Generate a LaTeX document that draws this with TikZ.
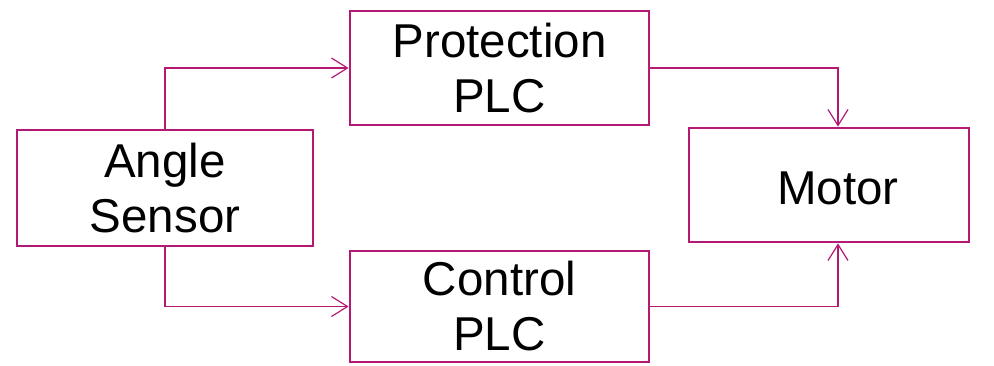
\documentclass[tikz,border=0pt]{standalone}
\usepackage{fontspec}
\setmainfont{Liberation Sans}
\usetikzlibrary{arrows.meta,positioning}

\definecolor{plcred}{RGB}{180,25,115}

\tikzset{
  block/.style={draw=plcred, line width=2.8pt, align=center, inner sep=0pt,
    font=\fontsize{47.5}{55}\selectfont},
  link/.style={draw=plcred, line width=1.2pt, -{Straight Barb[length=16pt,width=20pt]}}
}

\begin{document}
\begin{tikzpicture}[x=1pt,y=-1pt]
\useasboundingbox (0,0) rectangle (994,365);

\node [block, minimum width=296pt, minimum height=116pt] (sensor) at (165,188) {Angle\\Sensor};
\node [block, minimum width=299pt, minimum height=114pt] (protect) at (499.5,68) {Protection\\PLC};
\node [block, minimum width=299pt, minimum height=111pt] (control) at (499.5,306.5) {Control\\PLC};
\node [block, minimum width=280pt, minimum height=114pt,
  label={[font=\fontsize{47.5}{55}\selectfont, xshift=9pt, yshift=-3pt]center:Motor}] (motor) at (829,185) {};

% motor inputs sit a bit right of centre
\coordinate (mtop) at ([xshift=9pt]motor.north);
\coordinate (mbot) at ([xshift=9pt]motor.south);

\draw [link] (sensor.north) |- (protect.west);
\draw [link] (sensor.south) |- (control.west);
\draw [link] (protect.east) -| (mtop);
\draw [link] (control.east) -| (mbot);
\end{tikzpicture}
\end{document}
